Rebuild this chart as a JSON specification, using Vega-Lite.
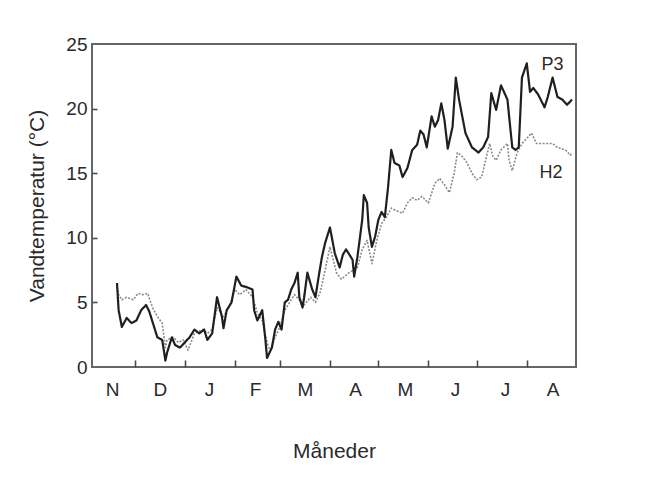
{
  "$schema": "https://vega.github.io/schema/vega-lite/v6.json",
  "width": 484,
  "height": 323,
  "autosize": {"type": "none"},
  "padding": {"left": 92, "top": 44, "right": 74, "bottom": 117},
  "background": "white",
  "config": {
    "font": "Liberation Sans",
    "view": {"stroke": "#666666", "strokeWidth": 2},
    "axis": {"labelColor": "#2a2a2a", "titleColor": "#2a2a2a", "tickColor": "#4a4a4a", "labelFont": "Liberation Sans", "titleFont": "Liberation Sans", "titleFontWeight": "normal", "grid": false, "domain": false}
  },
  "datasets": {
    "temps": [
      {"station": "H2", "day": 19, "temp": 6.2},
      {"station": "H2", "day": 20, "temp": 5.6},
      {"station": "H2", "day": 22, "temp": 5.2},
      {"station": "H2", "day": 25, "temp": 5.4},
      {"station": "H2", "day": 29, "temp": 5.2},
      {"station": "H2", "day": 32, "temp": 5.7},
      {"station": "H2", "day": 35, "temp": 5.6},
      {"station": "H2", "day": 38, "temp": 5.7},
      {"station": "H2", "day": 41, "temp": 4.6},
      {"station": "H2", "day": 44, "temp": 3.9},
      {"station": "H2", "day": 47, "temp": 3.4},
      {"station": "H2", "day": 49, "temp": 1.5},
      {"station": "H2", "day": 50, "temp": 2.1},
      {"station": "H2", "day": 54, "temp": 2.3},
      {"station": "H2", "day": 57, "temp": 1.9},
      {"station": "H2", "day": 60, "temp": 2.1},
      {"station": "H2", "day": 63, "temp": 1.3},
      {"station": "H2", "day": 67, "temp": 2.6},
      {"station": "H2", "day": 72, "temp": 2.9},
      {"station": "H2", "day": 75, "temp": 2.6},
      {"station": "H2", "day": 78, "temp": 2.9},
      {"station": "H2", "day": 81, "temp": 4.6},
      {"station": "H2", "day": 85, "temp": 3.9},
      {"station": "H2", "day": 89, "temp": 4.8},
      {"station": "H2", "day": 92, "temp": 6.0},
      {"station": "H2", "day": 95, "temp": 5.6},
      {"station": "H2", "day": 99, "temp": 6.0},
      {"station": "H2", "day": 103, "temp": 5.4},
      {"station": "H2", "day": 106, "temp": 4.2},
      {"station": "H2", "day": 109, "temp": 3.6},
      {"station": "H2", "day": 112, "temp": 1.9},
      {"station": "H2", "day": 114, "temp": 1.2},
      {"station": "H2", "day": 117, "temp": 2.3},
      {"station": "H2", "day": 120, "temp": 3.1},
      {"station": "H2", "day": 123, "temp": 4.4},
      {"station": "H2", "day": 126, "temp": 5.0},
      {"station": "H2", "day": 129, "temp": 5.6},
      {"station": "H2", "day": 132, "temp": 5.2},
      {"station": "H2", "day": 135, "temp": 4.8},
      {"station": "H2", "day": 139, "temp": 5.4},
      {"station": "H2", "day": 142, "temp": 5.0},
      {"station": "H2", "day": 145, "temp": 5.8},
      {"station": "H2", "day": 148, "temp": 7.5},
      {"station": "H2", "day": 151, "temp": 9.3},
      {"station": "H2", "day": 155, "temp": 7.3},
      {"station": "H2", "day": 158, "temp": 6.8},
      {"station": "H2", "day": 163, "temp": 7.3},
      {"station": "H2", "day": 168, "temp": 7.7},
      {"station": "H2", "day": 171, "temp": 9.1},
      {"station": "H2", "day": 174, "temp": 9.8},
      {"station": "H2", "day": 177, "temp": 8.0},
      {"station": "H2", "day": 180, "temp": 9.8},
      {"station": "H2", "day": 183, "temp": 11.1},
      {"station": "H2", "day": 186, "temp": 11.6},
      {"station": "H2", "day": 189, "temp": 12.3},
      {"station": "H2", "day": 192, "temp": 12.1},
      {"station": "H2", "day": 196, "temp": 11.9},
      {"station": "H2", "day": 199, "temp": 12.7},
      {"station": "H2", "day": 202, "temp": 13.1},
      {"station": "H2", "day": 205, "temp": 12.9},
      {"station": "H2", "day": 208, "temp": 13.2},
      {"station": "H2", "day": 212, "temp": 12.7},
      {"station": "H2", "day": 216, "temp": 14.2},
      {"station": "H2", "day": 219, "temp": 14.6},
      {"station": "H2", "day": 222, "temp": 14.1},
      {"station": "H2", "day": 225, "temp": 13.5},
      {"station": "H2", "day": 228, "temp": 15.0},
      {"station": "H2", "day": 230, "temp": 16.6},
      {"station": "H2", "day": 233, "temp": 16.3},
      {"station": "H2", "day": 236, "temp": 15.8},
      {"station": "H2", "day": 239, "temp": 15.0},
      {"station": "H2", "day": 242, "temp": 14.5},
      {"station": "H2", "day": 245, "temp": 14.7},
      {"station": "H2", "day": 248, "temp": 16.3},
      {"station": "H2", "day": 250, "temp": 17.3},
      {"station": "H2", "day": 252, "temp": 16.3},
      {"station": "H2", "day": 254, "temp": 16.0},
      {"station": "H2", "day": 257, "temp": 16.8},
      {"station": "H2", "day": 261, "temp": 17.3},
      {"station": "H2", "day": 262, "temp": 16.0},
      {"station": "H2", "day": 264, "temp": 15.2},
      {"station": "H2", "day": 267, "temp": 16.6},
      {"station": "H2", "day": 270, "temp": 17.3},
      {"station": "H2", "day": 273, "temp": 17.7},
      {"station": "H2", "day": 276, "temp": 18.1},
      {"station": "H2", "day": 279, "temp": 17.3},
      {"station": "H2", "day": 284, "temp": 17.3},
      {"station": "H2", "day": 289, "temp": 17.3},
      {"station": "H2", "day": 292, "temp": 17.0},
      {"station": "H2", "day": 297, "temp": 16.8},
      {"station": "H2", "day": 300, "temp": 16.4},
      {"station": "H2", "day": 301, "temp": 16.6},
      {"station": "P3", "day": 19, "temp": 6.5},
      {"station": "P3", "day": 20, "temp": 4.4},
      {"station": "P3", "day": 22, "temp": 3.1},
      {"station": "P3", "day": 25, "temp": 3.8},
      {"station": "P3", "day": 28, "temp": 3.4},
      {"station": "P3", "day": 31, "temp": 3.6},
      {"station": "P3", "day": 34, "temp": 4.4},
      {"station": "P3", "day": 37, "temp": 4.8},
      {"station": "P3", "day": 39, "temp": 4.3},
      {"station": "P3", "day": 42, "temp": 3.1},
      {"station": "P3", "day": 44, "temp": 2.3},
      {"station": "P3", "day": 47, "temp": 2.1},
      {"station": "P3", "day": 49, "temp": 0.5},
      {"station": "P3", "day": 50, "temp": 1.1},
      {"station": "P3", "day": 53, "temp": 2.3},
      {"station": "P3", "day": 55, "temp": 1.7},
      {"station": "P3", "day": 58, "temp": 1.5},
      {"station": "P3", "day": 61, "temp": 1.9},
      {"station": "P3", "day": 64, "temp": 2.3},
      {"station": "P3", "day": 67, "temp": 2.9},
      {"station": "P3", "day": 70, "temp": 2.6},
      {"station": "P3", "day": 73, "temp": 2.9},
      {"station": "P3", "day": 75, "temp": 2.1},
      {"station": "P3", "day": 78, "temp": 2.6},
      {"station": "P3", "day": 81, "temp": 5.4},
      {"station": "P3", "day": 84, "temp": 3.9},
      {"station": "P3", "day": 85, "temp": 3.0},
      {"station": "P3", "day": 87, "temp": 4.4},
      {"station": "P3", "day": 90, "temp": 5.0},
      {"station": "P3", "day": 93, "temp": 7.0},
      {"station": "P3", "day": 96, "temp": 6.3},
      {"station": "P3", "day": 99, "temp": 6.2},
      {"station": "P3", "day": 103, "temp": 6.0},
      {"station": "P3", "day": 104, "temp": 4.4},
      {"station": "P3", "day": 106, "temp": 3.6},
      {"station": "P3", "day": 109, "temp": 4.4},
      {"station": "P3", "day": 111, "temp": 2.1},
      {"station": "P3", "day": 112, "temp": 0.7},
      {"station": "P3", "day": 115, "temp": 1.5},
      {"station": "P3", "day": 117, "temp": 2.9},
      {"station": "P3", "day": 119, "temp": 3.5},
      {"station": "P3", "day": 121, "temp": 2.9},
      {"station": "P3", "day": 123, "temp": 5.0},
      {"station": "P3", "day": 125, "temp": 5.2},
      {"station": "P3", "day": 127, "temp": 6.0},
      {"station": "P3", "day": 129, "temp": 6.5},
      {"station": "P3", "day": 131, "temp": 7.3},
      {"station": "P3", "day": 132, "temp": 5.4},
      {"station": "P3", "day": 134, "temp": 4.6},
      {"station": "P3", "day": 135, "temp": 5.4},
      {"station": "P3", "day": 137, "temp": 7.3},
      {"station": "P3", "day": 140, "temp": 6.0},
      {"station": "P3", "day": 142, "temp": 5.4},
      {"station": "P3", "day": 144, "temp": 7.0},
      {"station": "P3", "day": 146, "temp": 8.5},
      {"station": "P3", "day": 148, "temp": 9.6},
      {"station": "P3", "day": 151, "temp": 10.8},
      {"station": "P3", "day": 154, "temp": 8.8},
      {"station": "P3", "day": 157, "temp": 7.7},
      {"station": "P3", "day": 159, "temp": 8.7},
      {"station": "P3", "day": 161, "temp": 9.1},
      {"station": "P3", "day": 165, "temp": 8.3},
      {"station": "P3", "day": 166, "temp": 7.0},
      {"station": "P3", "day": 168, "temp": 8.5},
      {"station": "P3", "day": 171, "temp": 11.4},
      {"station": "P3", "day": 172, "temp": 13.3},
      {"station": "P3", "day": 174, "temp": 12.7},
      {"station": "P3", "day": 175, "temp": 10.8},
      {"station": "P3", "day": 177, "temp": 9.3},
      {"station": "P3", "day": 179, "temp": 10.1},
      {"station": "P3", "day": 181, "temp": 11.4},
      {"station": "P3", "day": 183, "temp": 12.0},
      {"station": "P3", "day": 185, "temp": 11.6},
      {"station": "P3", "day": 187, "temp": 13.9},
      {"station": "P3", "day": 189, "temp": 16.8},
      {"station": "P3", "day": 191, "temp": 15.8},
      {"station": "P3", "day": 194, "temp": 15.6},
      {"station": "P3", "day": 196, "temp": 14.7},
      {"station": "P3", "day": 199, "temp": 15.4},
      {"station": "P3", "day": 202, "temp": 16.8},
      {"station": "P3", "day": 205, "temp": 17.2},
      {"station": "P3", "day": 207, "temp": 18.3},
      {"station": "P3", "day": 209, "temp": 18.0},
      {"station": "P3", "day": 211, "temp": 17.0},
      {"station": "P3", "day": 214, "temp": 19.4},
      {"station": "P3", "day": 216, "temp": 18.6},
      {"station": "P3", "day": 218, "temp": 19.1},
      {"station": "P3", "day": 220, "temp": 20.4},
      {"station": "P3", "day": 222, "temp": 19.1},
      {"station": "P3", "day": 224, "temp": 16.9},
      {"station": "P3", "day": 227, "temp": 18.6},
      {"station": "P3", "day": 229, "temp": 22.4},
      {"station": "P3", "day": 231, "temp": 20.7},
      {"station": "P3", "day": 235, "temp": 18.1},
      {"station": "P3", "day": 239, "temp": 17.0},
      {"station": "P3", "day": 243, "temp": 16.6},
      {"station": "P3", "day": 246, "temp": 17.0},
      {"station": "P3", "day": 249, "temp": 17.8},
      {"station": "P3", "day": 251, "temp": 21.2},
      {"station": "P3", "day": 254, "temp": 19.9},
      {"station": "P3", "day": 257, "temp": 21.8},
      {"station": "P3", "day": 261, "temp": 20.7},
      {"station": "P3", "day": 264, "temp": 17.0},
      {"station": "P3", "day": 266, "temp": 16.8},
      {"station": "P3", "day": 268, "temp": 17.0},
      {"station": "P3", "day": 270, "temp": 22.4},
      {"station": "P3", "day": 273, "temp": 23.5},
      {"station": "P3", "day": 275, "temp": 21.3},
      {"station": "P3", "day": 277, "temp": 21.6},
      {"station": "P3", "day": 280, "temp": 21.1},
      {"station": "P3", "day": 284, "temp": 20.1},
      {"station": "P3", "day": 286, "temp": 20.9},
      {"station": "P3", "day": 289, "temp": 22.4},
      {"station": "P3", "day": 292, "temp": 20.9},
      {"station": "P3", "day": 295, "temp": 20.7},
      {"station": "P3", "day": 298, "temp": 20.3},
      {"station": "P3", "day": 301, "temp": 20.7}
    ],
    "labels": [
      {"station": "P3", "day": 289, "temp": 23.4},
      {"station": "H2", "day": 288, "temp": 15.0}
    ]
  },
  "resolve": {"axis": {"x": "independent", "y": "independent"}},
  "layer": [
    {
      "data": {"name": "temps"},
      "mark": {"type": "line", "strokeJoin": "round"},
      "encoding": {
        "x": {
          "field": "day", "type": "quantitative",
          "scale": {"domain": [3.5, 303.5], "nice": false, "zero": false},
          "axis": {"orient": "bottom", "values": [30, 61, 92, 120, 151, 181, 212, 242, 273], "labels": false, "ticks": true, "tickSize": 7, "offset": -7, "tickWidth": 1.6, "title": null}
        },
        "y": {
          "field": "temp", "type": "quantitative",
          "scale": {"domain": [0, 25], "nice": false},
          "axis": {"orient": "left", "values": [0, 5, 10, 15, 20, 25], "ticks": false, "labelFontSize": 19, "labelPadding": 5, "title": "Vandtemperatur (°C)", "titleFontSize": 21, "titlePadding": 18}
        },
        "color": {"field": "station", "type": "nominal", "scale": {"domain": ["H2", "P3"], "range": ["#8a8a8a", "#1f1f1f"]}, "legend": null},
        "strokeDash": {"field": "station", "type": "nominal", "scale": {"domain": ["H2", "P3"], "range": [[2, 1.5], [1, 0]]}, "legend": null},
        "strokeWidth": {"field": "station", "type": "nominal", "scale": {"domain": ["H2", "P3"], "range": [1.6, 2.2]}, "legend": null}
      }
    },
    {
      "data": {"name": "labels"},
      "mark": {"type": "text", "fontSize": 18, "color": "#2a2a2a", "font": "Liberation Sans"},
      "encoding": {
        "x": {
          "field": "day", "type": "quantitative",
          "scale": {"domain": [3.5, 303.5], "nice": false, "zero": false},
          "axis": {"orient": "bottom", "values": [16, 45.5, 76, 104.5, 135.5, 166.5, 197.5, 228.5, 259.5, 289], "ticks": false, "labelFontSize": 19, "labelPadding": 13, "labelExpr": "['N','D','J','F','M','A','M','J','J','A'][datum.index * 9]", "title": "Måneder", "titleFontSize": 21, "titlePadding": 41}
        },
        "y": {
          "field": "temp", "type": "quantitative",
          "scale": {"domain": [0, 25], "nice": false},
          "axis": {"orient": "left", "values": [5, 10, 15, 20], "labels": false, "ticks": true, "tickSize": 5, "offset": -5, "tickWidth": 1.6, "title": null}
        },
        "text": {"field": "station", "type": "nominal"}
      }
    }
  ]
}
